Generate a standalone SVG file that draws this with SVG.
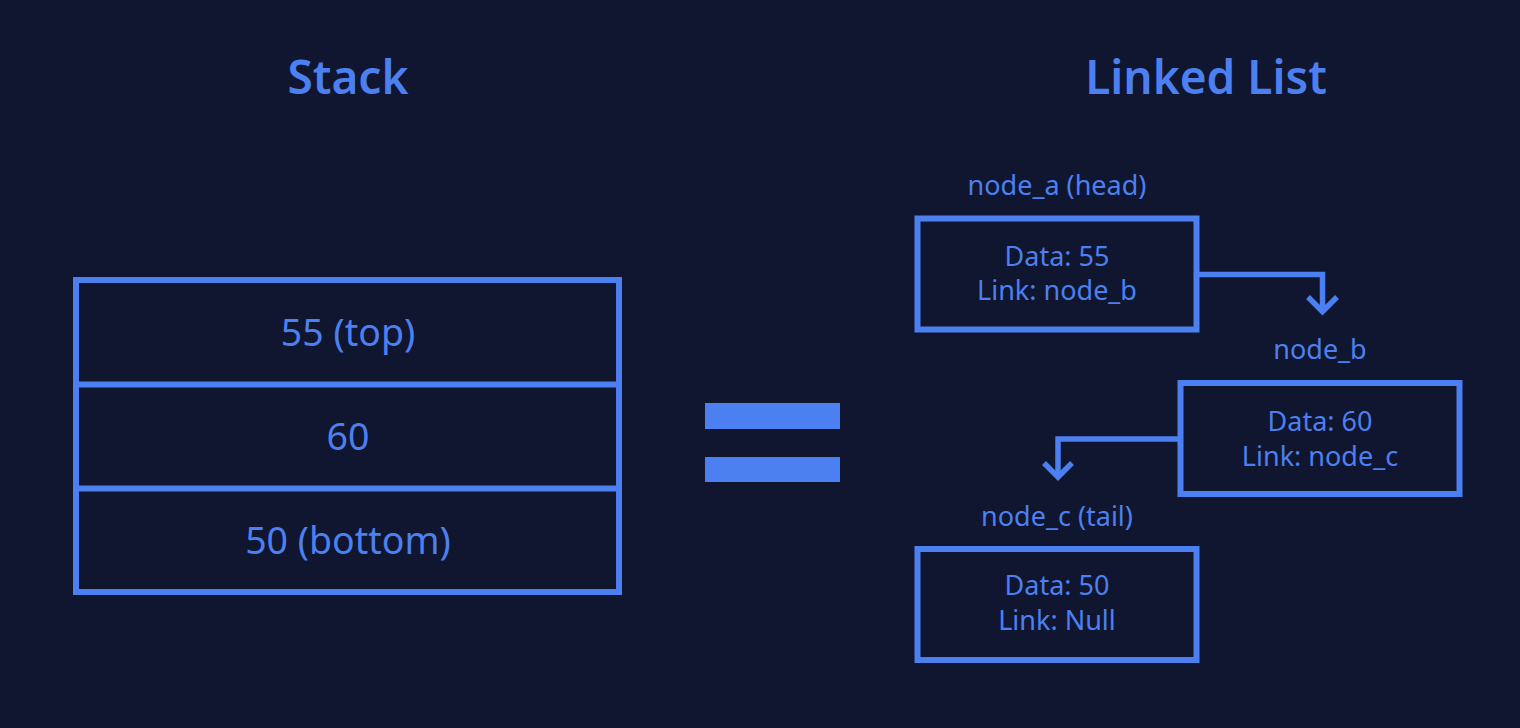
<svg xmlns="http://www.w3.org/2000/svg" width="1520" height="728" viewBox="0 0 1520 728">
<style>
.t{font-family:"Noto Sans","Open Sans","Liberation Sans",sans-serif;fill:#4c80f0;text-anchor:middle}
.title{font-size:46px;font-weight:600}
.cell{font-size:37.5px}
.lbl{font-size:27px}
.box{fill:none;stroke:#4c80f0;stroke-width:6}
.conn{fill:none;stroke:#4c80f0;stroke-width:5.5;stroke-linejoin:miter}
</style>
<rect x="0" y="0" width="1520" height="728" fill="#10162f"/>
<text class="t title" x="348" y="94">Stack</text>
<text class="t title" x="1206" y="94">Linked List</text>
<g id="stack">
<rect class="box" x="76" y="280" width="543" height="312"/>
<line class="box" x1="76" y1="384.5" x2="619" y2="384.5"/>
<line class="box" x1="76" y1="488.5" x2="619" y2="488.5"/>
<text class="t cell" x="348" y="346">55 (top)</text>
<text class="t cell" x="348" y="450">60</text>
<text class="t cell" x="348" y="554">50 (bottom)</text>
</g>
<g id="equals" fill="#4c80f0">
<rect x="705" y="403" width="135" height="26"/>
<rect x="705" y="457" width="135" height="25"/>
</g>
<g id="node_a">
<text class="t lbl" x="1057" y="195">node_a (head)</text>
<rect class="box" x="917.5" y="218.5" width="279" height="111"/>
<text class="t lbl" x="1057" y="266">Data: 55</text>
<text class="t lbl" x="1057" y="300">Link: node_b</text>
</g>
<g id="node_b">
<text class="t lbl" x="1320" y="359">node_b</text>
<rect class="box" x="1180.5" y="383" width="279" height="111"/>
<text class="t lbl" x="1320" y="430.5">Data: 60</text>
<text class="t lbl" x="1320" y="465.5">Link: node_c</text>
</g>
<g id="node_c">
<text class="t lbl" x="1057" y="525.5">node_c (tail)</text>
<rect class="box" x="917.5" y="549" width="279" height="111"/>
<text class="t lbl" x="1057" y="595">Data: 50</text>
<text class="t lbl" x="1057" y="630">Link: Null</text>
</g>
<g id="connectors">
<path class="conn" d="M1196.5 274.5 H1322.5 V311"/>
<path class="conn" d="M1308 297 L1322.5 311.5 L1337 297"/>
<path class="conn" d="M1180.5 439 H1058 V477"/>
<path class="conn" d="M1044 463 L1058 477 L1072 463"/>
</g>
</svg>
